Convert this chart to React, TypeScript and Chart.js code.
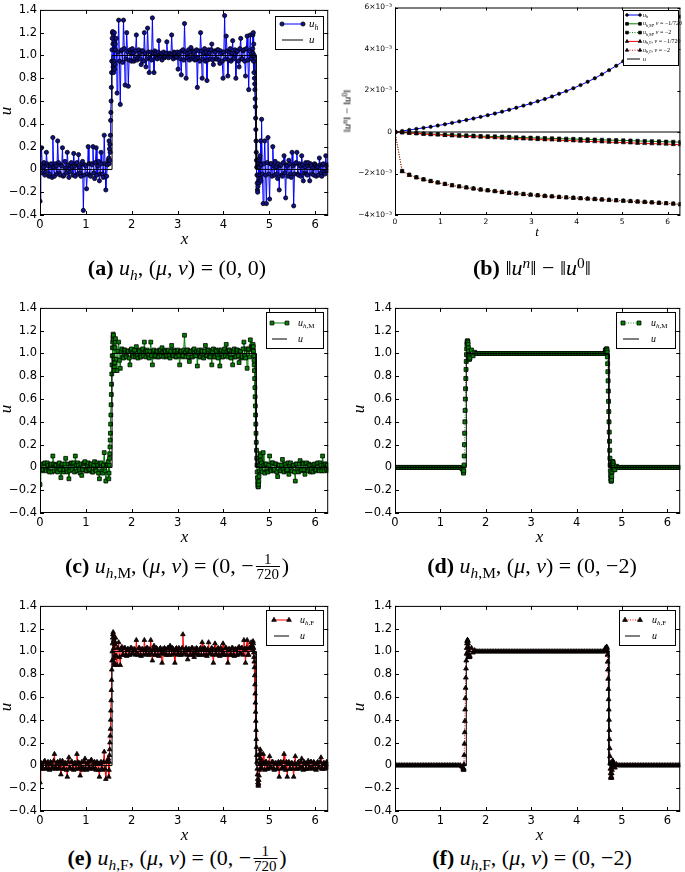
import React, { useEffect, useRef } from 'react';
import { Chart, registerables } from 'chart.js';

Chart.register(...registerables);

const TWO_PI = 2 * Math.PI;
const HALF_PI = Math.PI / 2;

// ---------------- data ----------------
// uniform meshes on [0, 2π] plus refined sample windows across the two jumps
const FINE_POINTS = 360;
const COARSE_POINTS = 180;
const X_FINE = Array.from({ length: FINE_POINTS }, (_, i) => (i * TWO_PI) / (FINE_POINTS - 1));
const X_COARSE = Array.from({ length: COARSE_POINTS }, (_, i) => (i * TWO_PI) / (COARSE_POINTS - 1));
const X_UP = Array.from({ length: 29 }, (_, i) => 1.5 + i * 0.005); // 1.500 .. 1.640
const X_DOWN = Array.from({ length: 37 }, (_, i) => 4.64 + i * 0.005); // 4.640 .. 4.820

const EXACT_X = [0, HALF_PI, HALF_PI, 3 * HALF_PI, 3 * HALF_PI, TWO_PI];
const EXACT_U = [0, 0, 1, 1, 0, 0];

const X_TICKS = [0, 1, 2, 3, 4, 5, 6];
const U_TICKS = [-0.4, -0.2, 0, 0.2, 0.4, 0.6, 0.8, 1.0, 1.2, 1.4];

const _ = null; // sample taken from the refined window instead

// (a) u_h, (mu, nu) = (0, 0)
const UH_PLAIN = [
  -0.28, 0.04, 0.19, -0.03, 0.02, 0.06, -0.05, -0.02, 0.15, 0.05, 0.03, -0.06, -0.04, 0.03, 0.05, -0.07, 0.28, 0.02, -0.06, 0.05,
  0.03, -0.04, 0.25, 0.06, -0.03, -0.05, 0.04, 0.03, 0.19, -0.06, -0.05, 0.07, 0.01, -0.03, 0.15, 0.04, -0.07, -0.02, 0.03, 0.06,
  0.02, -0.05, 0.14, 0.03, -0.06, 0.05, 0.06, -0.04, 0.13, 0.02, -0.03, -0.06, 0.05, 0.07, -0.36, -0.05, 0.04, 0.03, -0.17, -0.04,
  0.20, 0.05, -0.05, -0.06, 0.05, 0.04, 0.20, -0.03, -0.08, 0.06, 0.19, -0.05, 0.03, 0.07, -0.10, -0.04, 0.15, 0.05, -0.04, -0.07,
  0.30, 0.05, -0.18, -0.06, 0.04, 0.08, _, _, _, _, _, _, _, _, 1.05, 1.15, 0.67, 1.03, 1.31, 0.95,
  0.57, 1.04, 1.05, 0.94, 1.31, 1.06, 0.74, 0.97, 1.20, 1.03, 0.73, 0.96, 1.05, 1.02, 0.95, 1.06, 1.02, 0.95, 0.97, 1.04,
  1.18, 0.96, 0.98, 1.05, 1.02, 0.97, 0.92, 1.04, 1.04, 0.95, 1.20, 1.02, 0.90, 0.97, 1.24, 1.03, 0.85, 0.98, 1.03, 0.96,
  1.33, 1.02, 0.85, 1.04, 1.02, 0.98, 0.97, 1.03, 1.13, 0.98, 1.00, 1.02, 0.96, 1.01, 1.03, 0.98, 0.99, 1.02, 1.12, 0.99,
  0.98, 1.02, 1.01, 0.99, 1.18, 1.01, 0.97, 1.03, 1.02, 0.98, 0.99, 1.03, 0.88, 1.01, 1.03, 0.97, 0.83, 1.04, 1.05, 0.96,
  1.28, 1.03, 0.80, 0.98, 1.02, 1.05, 0.96, 1.03, 1.07, 0.97, 0.99, 1.04, 1.03, 0.96, 0.97, 1.05, 0.72, 0.98, 1.04, 0.95,
  1.20, 1.04, 0.80, 0.97, 1.02, 1.06, 0.95, 1.03, 0.78, 0.96, 1.05, 1.02, 0.97, 1.05, 1.10, 0.96, 0.92, 1.04, 1.03, 0.97,
  0.97, 1.05, 1.05, 0.96, 0.93, 1.04, 1.02, 0.95, 0.80, 1.03, 1.35, 0.97, 1.17, 1.04, 0.82, 0.96, 1.03, 1.06, 0.95, 1.02,
  1.13, 0.97, 0.98, 1.05, 0.80, 1.03, 1.04, 0.95, 0.90, 1.06, 1.15, 0.97, 0.97, 1.04, 1.05, 0.95, 0.82, 1.06, 1.17, 0.96,
  0.70, 1.04, 1.18, 0.97, 1.00, 1.06, _, _, _, _, _, _, _, _, _, _, 0.44, -0.04, -0.30, 0.05,
  0.25, -0.05, -0.30, 0.06, 0.28, -0.04, -0.26, 0.05, 0.05, -0.06, 0.20, 0.03, -0.05, 0.07, 0.02, -0.04, -0.08, 0.05, -0.18, 0.03,
  0.04, -0.05, -0.06, 0.06, 0.12, -0.03, -0.25, 0.04, 0.03, -0.06, 0.08, 0.05, -0.04, -0.07, 0.15, 0.03, -0.32, -0.04, 0.05, 0.06,
  0.15, -0.04, -0.05, 0.05, 0.03, -0.06, 0.12, 0.04, -0.10, -0.03, 0.02, 0.06, -0.04, -0.05, 0.06, 0.03, -0.10, 0.05, 0.03, -0.04,
  0.01, -0.05, 0.05, 0.04, -0.06, 0.03, 0.02, -0.05, 0.10, 0.04, -0.03, -0.06, 0.04, 0.05, -0.02, -0.04, 0.12, 0.03, -0.01, 0.04,
];
const UH_PLAIN_UP = [
  0.10, 0.25, 0.05, 0.18, 0.08, 0.22, 0.15, 0.30, 0.43, 0.50, 0.60, 0.72, 0.85, 0.95, 1.05,
  1.15, 1.20, 1.21, 1.10, 0.90, 1.18, 0.85, 1.12, 0.95, 1.20, 0.88, 1.05, 0.92, 1.10,
];
const UH_PLAIN_DOWN = [
  1.18, 1.02, 1.20, 0.95, 1.10, 0.85, 1.00, 0.80, 0.75, 0.70, 0.62, 0.55, 0.45, 0.35, 0.25, 0.15, 0.08, 0.02, -0.05,
  -0.12, -0.18, -0.20, -0.15, -0.05, 0.05, -0.10, 0.08, -0.12, 0.02, 0.10, -0.05, 0.12, -0.08, 0.05, 0.25, -0.10, 0.04,
];

// (c) u_h,M, (0, -1/720)
const UHM_NU720 = [
  -0.15, -0.02, 0.03, -0.03, -0.02, 0.03, 0.04, -0.02, -0.03, 0.04, 0.02, -0.03, -0.04, 0.02, 0.03, -0.04, 0.10, 0.03, -0.03, 0.02,
  0.02, -0.03, -0.04, 0.03, 0.04, -0.02, -0.09, 0.02, 0.03, -0.04, -0.02, 0.03, 0.08, -0.02, -0.04, 0.03, -0.10, -0.03, 0.03, 0.04,
  -0.02, 0.03, 0.04, -0.04, 0.10, 0.02, -0.03, 0.04, 0.02, -0.03, -0.05, 0.03, -0.07, -0.02, 0.03, 0.04, 0.05, -0.03, -0.03, 0.02,
  0.04, -0.03, -0.02, 0.03, 0.03, -0.04, -0.04, 0.02, 0.05, -0.02, -0.03, 0.04, 0.02, -0.05, -0.10, 0.03, 0.04, -0.03, -0.05, 0.02,
  0.13, -0.03, -0.12, 0.02, 0.03, 0.05, _, _, _, _, _, _, _, _, 1.13, 0.95, 0.85, 1.02, 1.10, 0.94,
  0.87, 1.02, 1.04, 0.97, 0.96, 1.03, 1.03, 0.98, 0.97, 1.02, 1.02, 0.96, 0.90, 1.03, 1.04, 0.98, 0.97, 1.02, 1.03, 0.97,
  1.06, 0.98, 0.96, 1.03, 1.02, 0.97, 0.97, 1.03, 1.04, 0.98, 1.10, 1.02, 0.97, 1.03, 1.02, 0.97, 0.96, 1.02, 1.10, 0.98,
  0.90, 1.02, 1.03, 0.97, 0.98, 1.02, 1.02, 0.97, 0.97, 1.03, 1.03, 0.98, 1.05, 1.01, 0.97, 1.03, 1.02, 0.97, 0.98, 1.02,
  1.03, 0.98, 0.96, 1.02, 1.07, 0.98, 0.98, 1.03, 1.02, 0.97, 0.97, 1.02, 1.03, 0.98, 0.90, 1.02, 1.02, 0.97, 0.98, 1.03,
  1.16, 1.01, 0.97, 1.03, 1.03, 0.97, 0.93, 1.02, 1.02, 0.97, 0.97, 1.03, 1.04, 0.98, 0.98, 1.02, 0.89, 1.01, 1.03, 0.97,
  0.97, 1.03, 1.02, 0.97, 0.96, 1.02, 1.07, 0.98, 0.98, 1.03, 1.03, 0.97, 0.97, 1.02, 0.90, 1.01, 1.04, 0.97, 0.97, 1.03,
  1.02, 0.98, 0.96, 1.03, 0.89, 1.02, 1.03, 0.97, 0.97, 1.02, 1.04, 0.98, 1.08, 1.02, 0.97, 1.03, 1.03, 0.97, 0.96, 1.02,
  0.90, 1.02, 1.04, 0.97, 0.97, 1.03, 1.03, 0.98, 0.92, 1.02, 1.02, 0.96, 0.97, 1.04, 1.10, 0.98, 0.96, 1.04, 0.87, 1.03,
  1.04, 0.97, 1.12, 1.06, 1.05, 1.03, _, _, _, _, _, _, _, _, _, _, 0.04, -0.04, 0.13, 0.02,
  -0.05, 0.03, 0.03, -0.03, -0.04, 0.02, 0.10, -0.02, -0.03, 0.04, 0.04, -0.03, -0.02, 0.03, 0.03, -0.04, -0.08, 0.02, 0.02, -0.03,
  -0.03, 0.02, 0.07, -0.02, -0.04, 0.03, 0.03, -0.03, -0.02, 0.04, -0.06, 0.02, 0.04, -0.03, -0.03, 0.02, 0.02, -0.04, -0.12, 0.03,
  0.03, -0.02, -0.04, 0.03, 0.06, -0.03, -0.02, 0.04, 0.03, -0.02, -0.06, 0.03, 0.04, -0.02, -0.03, 0.03, 0.02, -0.04, -0.03, 0.02,
  -0.04, 0.02, 0.03, -0.03, -0.02, 0.03, 0.04, -0.02, -0.03, 0.04, 0.02, -0.03, 0.10, 0.02, -0.03, 0.03, 0.03, -0.02, 0.02, -0.03,
];
const UHM_NU720_UP = [
  -0.10, -0.05, 0.02, 0.08, 0.12, 0.18, 0.24, 0.30, 0.38, 0.46, 0.55, 0.64, 0.73, 0.82, 0.90,
  0.98, 1.05, 1.10, 1.14, 1.17, 1.16, 1.12, 1.05, 0.95, 0.88, 0.85, 0.92, 1.05, 1.10,
];
const UHM_NU720_DOWN = [
  1.05, 1.08, 1.06, 1.02, 0.98, 0.94, 0.90, 0.85, 0.78, 0.70, 0.62, 0.54, 0.46, 0.38, 0.30, 0.22, 0.15, 0.08, 0.02,
  -0.04, -0.09, -0.13, -0.16, -0.17, -0.17, -0.15, -0.12, -0.08, -0.03, 0.02, 0.06, 0.10, 0.12, 0.10, 0.06, 0.02, -0.02,
];

// (d) u_h,M, (0, -2)  (coarse mesh)
const UHM_NU2 = [
  0, 0, 0, 0, 0, 0, 0, 0, 0, 0, 0, 0, 0, 0, 0, 0, 0, 0, 0, 0,
  0, 0, 0, 0, 0, 0, 0, 0, 0, 0, 0, 0, 0, 0, 0, 0, 0, 0, 0, 0,
  0, 0, -0.01, _, _, _, _, 0.96, 1.03, 0.98, 1.01, 1, 1, 1, 1, 1, 1, 1, 1, 1,
  1, 1, 1, 1, 1, 1, 1, 1, 1, 1, 1, 1, 1, 1, 1, 1, 1, 1, 1, 1,
  1, 1, 1, 1, 1, 1, 1, 1, 1, 1, 1, 1, 1, 1, 1, 1, 1, 1, 1, 1,
  1, 1, 1, 1, 1, 1, 1, 1, 1, 1, 1, 1, 1, 1, 1, 1, 1, 1, 1, 1,
  1, 1, 1, 1, 1, 1, 1, 1, 1, 1, 1, 1, 1.03, _, _, _, _, _, -0.02, 0.01,
  0, 0, 0, 0, 0, 0, 0, 0, 0, 0, 0, 0, 0, 0, 0, 0, 0, 0, 0, 0,
  0, 0, 0, 0, 0, 0, 0, 0, 0, 0, 0, 0, 0, 0, 0, 0, 0, 0, 0, 0,
];
const UHM_NU2_UP = [
  -0.02, -0.04, -0.05, -0.03, 0.02, 0.10, 0.20, 0.30, 0.40, 0.50, 0.60, 0.69, 0.78, 0.86, 0.93,
  0.99, 1.04, 1.08, 1.10, 1.11, 1.11, 1.10, 1.08, 1.05, 1.02, 0.99, 0.97, 0.95, 0.95,
];
const UHM_NU2_DOWN = [
  1.00, 1.01, 1.02, 1.03, 1.04, 1.04, 1.03, 1.01, 0.97, 0.91, 0.84, 0.76, 0.67, 0.58, 0.49, 0.40, 0.31, 0.23, 0.15,
  0.08, 0.02, -0.03, -0.07, -0.10, -0.12, -0.12, -0.11, -0.08, -0.04, 0.00, 0.03, 0.05, 0.05, 0.04, 0.02, 0.00, -0.02,
];

// (e) u_h,F, (0, -1/720)
const UHF_NU720 = [
  -0.15, -0.03, 0.02, -0.02, -0.03, 0.03, 0.04, -0.03, -0.02, 0.02, 0.03, -0.03, -0.04, 0.03, 0.02, -0.02, -0.03, 0.04, 0.10, -0.02,
  -0.03, 0.02, 0.03, -0.03, -0.02, 0.04, -0.08, 0.02, 0.04, -0.03, -0.03, 0.02, 0.02, -0.04, -0.10, 0.03, 0.07, -0.02, -0.03, 0.03,
  0.03, -0.03, -0.04, 0.02, 0.02, -0.03, 0.10, 0.03, -0.03, 0.02, -0.09, -0.02, 0.03, -0.04, -0.02, 0.03, 0.06, -0.03, -0.04, 0.02,
  0.03, -0.02, -0.03, 0.04, 0.05, -0.03, -0.02, 0.02, 0.03, -0.03, -0.04, 0.03, 0.02, -0.04, -0.10, 0.02, 0.03, -0.03, -0.04, 0.03,
  0.12, -0.03, -0.12, 0.03, 0.04, 0.06, _, _, _, _, _, _, _, _, 1.12, 0.96, 0.88, 1.03, 1.08, 0.95,
  0.88, 1.02, 1.04, 0.97, 0.97, 1.03, 1.03, 0.97, 0.96, 1.02, 1.02, 0.97, 0.97, 1.03, 1.03, 0.98, 0.98, 1.02, 1.02, 0.97,
  1.10, 0.98, 0.97, 1.03, 1.03, 0.97, 0.96, 1.02, 1.02, 0.97, 1.10, 1.02, 0.98, 1.03, 1.03, 0.97, 0.97, 1.02, 1.10, 0.98,
  0.92, 1.02, 1.05, 0.97, 0.97, 1.03, 1.02, 0.97, 0.96, 1.02, 1.03, 0.98, 0.90, 1.02, 0.98, 1.03, 1.02, 0.97, 0.97, 1.03,
  1.03, 0.97, 1.05, 1.02, 0.97, 1.03, 1.02, 0.98, 0.90, 1.02, 1.03, 0.97, 0.98, 1.03, 1.02, 0.97, 0.97, 1.03, 1.15, 0.98,
  0.98, 1.02, 1.03, 0.97, 0.93, 1.02, 1.02, 0.97, 0.97, 1.03, 1.03, 0.98, 0.95, 1.02, 0.98, 1.03, 1.02, 0.97, 0.97, 1.02,
  1.03, 0.97, 1.08, 1.02, 0.97, 1.03, 1.02, 0.97, 0.96, 1.02, 1.08, 0.98, 0.98, 1.02, 1.03, 0.97, 0.90, 1.02, 1.07, 0.98,
  0.97, 1.02, 1.03, 0.97, 0.96, 1.03, 1.02, 0.98, 1.07, 0.97, 0.97, 1.03, 1.03, 0.97, 0.90, 1.02, 1.02, 0.97, 0.97, 1.03,
  1.03, 0.97, 0.96, 1.02, 1.02, 0.97, 0.97, 1.03, 1.04, 0.98, 0.98, 1.03, 1.03, 0.97, 1.10, 1.02, 0.90, 1.03, 1.10, 0.97,
  0.97, 1.03, 1.04, 1.08, 1.05, 1.02, _, _, _, _, _, _, _, _, _, _, 0.04, -0.03, 0.10, 0.02,
  -0.04, 0.03, 0.03, -0.03, -0.03, 0.02, 0.08, -0.02, -0.02, 0.03, 0.03, -0.03, -0.04, 0.02, 0.02, -0.03, -0.03, 0.03, -0.10, 0.02,
  0.03, -0.03, -0.02, 0.03, 0.10, -0.02, -0.04, 0.03, -0.10, 0.02, 0.03, -0.03, -0.03, 0.02, 0.02, -0.03, -0.10, 0.02, 0.08, -0.03,
  -0.03, 0.02, 0.03, -0.03, -0.02, 0.03, 0.06, -0.02, -0.04, 0.03, 0.02, -0.03, -0.03, 0.02, 0.04, -0.03, -0.02, 0.03, 0.03, -0.02,
  -0.03, 0.03, 0.02, -0.03, -0.04, 0.02, 0.03, -0.02, -0.02, 0.03, 0.07, -0.03, -0.03, 0.02, 0.02, -0.03, -0.02, 0.03, 0.01, -0.02,
];
const UHF_NU720_UP = [
  -0.10, -0.04, 0.03, 0.09, 0.14, 0.20, 0.26, 0.32, 0.40, 0.48, 0.57, 0.66, 0.75, 0.84, 0.92,
  1.00, 1.07, 1.12, 1.15, 1.17, 1.15, 1.10, 1.03, 0.94, 0.88, 0.90, 0.97, 1.06, 1.08,
];
const UHF_NU720_DOWN = [
  1.04, 1.09, 1.07, 1.03, 0.99, 0.95, 0.91, 0.86, 0.79, 0.71, 0.63, 0.55, 0.47, 0.39, 0.31, 0.23, 0.16, 0.09, 0.03,
  -0.03, -0.08, -0.12, -0.15, -0.17, -0.18, -0.16, -0.13, -0.09, -0.04, 0.01, 0.06, 0.10, 0.14, 0.11, 0.06, 0.02, -0.02,
];

// (f) u_h,F, (0, -2)  (coarse mesh)
const UHF_NU2 = [
  0, 0, 0, 0, 0, 0, 0, 0, 0, 0, 0, 0, 0, 0, 0, 0, 0, 0, 0, 0,
  0, 0, 0, 0, 0, 0, 0, 0, 0, 0, 0, 0, 0, 0, 0, 0, 0, 0, 0, 0,
  0, 0, -0.01, _, _, _, _, 0.96, 1.03, 0.99, 1.01, 1, 1, 1, 1, 1, 1, 1, 1, 1,
  1, 1, 1, 1, 1, 1, 1, 1, 1, 1, 1, 1, 1, 1, 1, 1, 1, 1, 1, 1,
  1, 1, 1, 1, 1, 1, 1, 1, 1, 1, 1, 1, 1, 1, 1, 1, 1, 1, 1, 1,
  1, 1, 1, 1, 1, 1, 1, 1, 1, 1, 1, 1, 1, 1, 1, 1, 1, 1, 1, 1,
  1, 1, 1, 1, 1, 1, 1, 1, 1, 1, 1, 1, 1.03, _, _, _, _, _, -0.02, 0.01,
  0, 0, 0, 0, 0, 0, 0, 0, 0, 0, 0, 0, 0, 0, 0, 0, 0, 0, 0, 0,
  0, 0, 0, 0, 0, 0, 0, 0, 0, 0, 0, 0, 0, 0, 0, 0, 0, 0, 0, 0,
];
const UHF_NU2_UP = [
  -0.02, -0.03, -0.04, -0.03, 0.01, 0.09, 0.19, 0.29, 0.39, 0.49, 0.59, 0.68, 0.77, 0.85, 0.92,
  0.98, 1.03, 1.07, 1.09, 1.10, 1.10, 1.09, 1.07, 1.04, 1.01, 0.98, 0.96, 0.95, 0.95,
];
const UHF_NU2_DOWN = [
  1.00, 1.01, 1.02, 1.03, 1.04, 1.04, 1.03, 1.01, 0.97, 0.91, 0.84, 0.76, 0.67, 0.58, 0.49, 0.40, 0.31, 0.23, 0.15,
  0.08, 0.02, -0.03, -0.07, -0.10, -0.11, -0.11, -0.10, -0.07, -0.04, 0.00, 0.03, 0.04, 0.04, 0.03, 0.02, 0.00, -0.01,
];

// (b) ||u^n|| - ||u^0||, in units of 1e-3, at 41 time levels on [0, 2π]
const T_LEVELS = Array.from({ length: 41 }, (_i, i) => (i * TWO_PI) / 40);
const T_ENDS = [0, TWO_PI];
const ZERO_LINE = [0, 0];
const NORM_TICKS = [-4, -2, 0, 2, 4, 6];
const NORM_UH = [
  0, 0.05, 0.10, 0.15, 0.20, 0.25, 0.31, 0.37, 0.44, 0.51,
  0.58, 0.65, 0.73, 0.81, 0.89, 0.98, 1.07, 1.17, 1.27, 1.37,
  1.48, 1.59, 1.71, 1.84, 1.97, 2.11, 2.26, 2.42, 2.59, 2.78,
  2.98, 3.19, 3.41, 3.64, 3.88, 4.13, 4.39, 4.66, 4.94, 5.24, 5.56,
];
const NORM_M_720 = [
  0, -0.02, -0.04, -0.06, -0.08, -0.10, -0.11, -0.13, -0.14, -0.16,
  -0.17, -0.18, -0.20, -0.21, -0.22, -0.23, -0.24, -0.26, -0.27, -0.28,
  -0.29, -0.30, -0.31, -0.32, -0.33, -0.34, -0.35, -0.36, -0.37, -0.38,
  -0.39, -0.40, -0.41, -0.42, -0.43, -0.44, -0.45, -0.46, -0.47, -0.48, -0.49,
];
const NORM_M_2 = [
  0, -1.88, -2.06, -2.18, -2.28, -2.36, -2.43, -2.50, -2.56, -2.62,
  -2.67, -2.72, -2.77, -2.81, -2.85, -2.89, -2.93, -2.96, -2.99, -3.02,
  -3.05, -3.08, -3.10, -3.13, -3.15, -3.17, -3.19, -3.21, -3.23, -3.25,
  -3.27, -3.29, -3.31, -3.33, -3.35, -3.37, -3.39, -3.41, -3.43, -3.45, -3.48,
];
const NORM_F_720 = [
  0, -0.02, -0.05, -0.07, -0.10, -0.12, -0.14, -0.16, -0.18, -0.20,
  -0.21, -0.23, -0.24, -0.26, -0.27, -0.29, -0.30, -0.32, -0.33, -0.34,
  -0.36, -0.37, -0.38, -0.40, -0.41, -0.42, -0.44, -0.45, -0.46, -0.47,
  -0.49, -0.50, -0.51, -0.52, -0.54, -0.55, -0.56, -0.57, -0.58, -0.60, -0.61,
];
const NORM_F_2 = [
  0, -1.90, -2.08, -2.20, -2.30, -2.38, -2.45, -2.52, -2.58, -2.63,
  -2.68, -2.73, -2.78, -2.82, -2.86, -2.90, -2.94, -2.97, -3.00, -3.03,
  -3.06, -3.09, -3.11, -3.14, -3.16, -3.18, -3.20, -3.22, -3.24, -3.26,
  -3.28, -3.30, -3.32, -3.34, -3.36, -3.38, -3.40, -3.42, -3.44, -3.46, -3.50,
];

// ---------------- styling / layout ----------------
const SERIF = "'Liberation Serif', 'DejaVu Serif', serif";
const SANS = "'DejaVu Sans', sans-serif";
const BLUE = '#0000ff';
const GREEN = '#008000';
const GREEN_DOT = '#22aa22';
const RED = '#ff0000';

Chart.defaults.font.family = SANS;

const PLOT_W = 289;
const PLOT_H = 208;
const COL_LEFT = [40, 395];
const ROW_TOP = [7, 305, 603];
const PAD_T = 7;
const AX_H = 18;
const U_TICK_FONT = 11.5;

type Part = { t: string; it?: boolean; sub?: boolean; sup?: boolean };
type LegendItem = { parts: Part[]; color: string; dash?: number[]; lw?: number; marker?: string; r?: number; fill?: string };
type LegendSpec = {
  right: number; top: number; width: number; height: number;
  firstRow: number; rowStep: number; lineInset: number; lineLen: number;
  textGap: number; fontSize: number; items: LegendItem[];
};

function buildSeries(mesh: number[], values: (number | null)[], up: number[], down: number[]) {
  const pts: { x: number; y: number }[] = [];
  mesh.forEach((x, i) => {
    const v = values[i];
    if (v !== null && v !== undefined) pts.push({ x, y: v });
  });
  X_UP.forEach((x, i) => pts.push({ x, y: up[i] }));
  X_DOWN.forEach((x, i) => pts.push({ x, y: down[i] }));
  pts.sort((p, q) => p.x - q.x);
  return pts;
}

function drawMarker(ctx: CanvasRenderingContext2D, kind: string, x: number, y: number, r: number, fill: string) {
  ctx.beginPath();
  if (kind === 'circle') {
    ctx.arc(x, y, r, 0, TWO_PI);
  } else if (kind === 'rect') {
    const s = r * Math.SQRT1_2;
    ctx.rect(x - s, y - s, 2 * s, 2 * s);
  } else {
    for (let k = 0; k < 3; k++) {
      const a = (k * TWO_PI) / 3;
      const px = x + Math.sin(a) * r;
      const py = y - Math.cos(a) * r;
      if (k === 0) ctx.moveTo(px, py); else ctx.lineTo(px, py);
    }
    ctx.closePath();
  }
  ctx.fillStyle = fill;
  ctx.fill();
  ctx.strokeStyle = '#000';
  ctx.lineWidth = 0.8;
  ctx.stroke();
}

function drawParts(ctx: CanvasRenderingContext2D, parts: Part[], x: number, y: number, size: number) {
  let cx = x;
  const base = y + size * 0.28;
  ctx.textBaseline = 'alphabetic';
  ctx.textAlign = 'left';
  ctx.fillStyle = '#000';
  for (const p of parts) {
    const s = p.sub || p.sup ? size * 0.7 : size;
    ctx.font = `${p.it ? 'italic ' : ''}${s}px ${SERIF}`;
    const dy = p.sub ? size * 0.22 : p.sup ? -size * 0.4 : 0;
    ctx.fillText(p.t, cx, base + dy);
    cx += ctx.measureText(p.t).width;
  }
}

function makeFramePlugin(tickLen: number) {
  return {
    id: 'mplFrame',
    afterDatasetsDraw(chart: any) {
      const { ctx, chartArea: a, scales } = chart;
      ctx.save();
      ctx.strokeStyle = '#000';
      ctx.lineWidth = 1;
      ctx.setLineDash([]);
      ctx.strokeRect(a.left + 0.5, a.top + 0.5, a.right - a.left - 1, a.bottom - a.top - 1);
      ctx.beginPath();
      for (const t of scales.x.ticks) {
        const px = Math.round(scales.x.getPixelForValue(t.value)) + 0.5;
        ctx.moveTo(px, a.bottom); ctx.lineTo(px, a.bottom - tickLen);
        ctx.moveTo(px, a.top); ctx.lineTo(px, a.top + tickLen);
      }
      for (const t of scales.y.ticks) {
        const py = Math.round(scales.y.getPixelForValue(t.value)) + 0.5;
        ctx.moveTo(a.left, py); ctx.lineTo(a.left + tickLen, py);
        ctx.moveTo(a.right, py); ctx.lineTo(a.right - tickLen, py);
      }
      ctx.stroke();
      ctx.restore();
    },
  };
}

function makeLegendPlugin(spec: LegendSpec) {
  return {
    id: 'mplLegend',
    afterDraw(chart: any) {
      const { ctx, chartArea: a } = chart;
      const bx = Math.round(a.right - spec.right - spec.width);
      const by = Math.round(a.top + spec.top);
      ctx.save();
      ctx.fillStyle = '#fff';
      ctx.fillRect(bx, by, spec.width, spec.height);
      ctx.strokeStyle = '#000';
      ctx.lineWidth = 1;
      ctx.strokeRect(bx + 0.5, by + 0.5, spec.width, spec.height);
      spec.items.forEach((e, i) => {
        const y = by + spec.firstRow + i * spec.rowStep;
        const x1 = bx + spec.lineInset;
        const x2 = x1 + spec.lineLen;
        ctx.beginPath();
        ctx.setLineDash(e.dash || []);
        ctx.strokeStyle = e.color;
        ctx.lineWidth = e.lw || 1;
        ctx.moveTo(x1, y); ctx.lineTo(x2, y);
        ctx.stroke();
        ctx.setLineDash([]);
        if (e.marker) {
          drawMarker(ctx, e.marker, x1, y, e.r || 2, e.fill || '#000');
          drawMarker(ctx, e.marker, x2, y, e.r || 2, e.fill || '#000');
        }
        drawParts(ctx, e.parts, x2 + spec.textGap, y, spec.fontSize);
      });
      ctx.restore();
    },
  };
}

function axis(min: number, max: number, ticks: number[], fmt: (v: number) => string, fontSize: number, fit: (s: any) => void) {
  return {
    type: 'linear',
    min,
    max,
    grid: { display: false, drawTicks: false },
    border: { display: false },
    ticks: {
      color: '#000',
      font: { family: SANS, size: fontSize },
      padding: 3,
      autoSkip: false,
      maxRotation: 0,
      callback: (v: number) => fmt(v),
    },
    afterBuildTicks: (s: any) => {
      s.ticks = ticks.map((v) => ({ value: v }));
    },
    afterFit: fit,
  };
}

const fmtInt = (v: number) => String(v);
const fmtU = (v: number) => (v === 0 ? '0' : v.toFixed(1).replace('-', '\u2212'));
const fmtNorm = (v: number) => (v === 0 ? '0' : `${v}\u00d710\u207b\u00b3`.replace('-', '\u2212'));

type SeriesStyle = { color: string; lw: number; dash: number[]; marker: string; r: number; fill: string };

const STYLE_A: SeriesStyle = { color: BLUE, lw: 1, dash: [], marker: 'circle', r: 2.1, fill: '#10108a' };
const STYLE_C: SeriesStyle = { color: GREEN, lw: 1, dash: [], marker: 'rect', r: 2.7, fill: GREEN };
const STYLE_D: SeriesStyle = { color: GREEN_DOT, lw: 1, dash: [1, 1.5], marker: 'rect', r: 2.8, fill: GREEN };
const STYLE_E: SeriesStyle = { color: RED, lw: 1, dash: [], marker: 'triangle', r: 2.7, fill: '#200000' };
const STYLE_F: SeriesStyle = { color: RED, lw: 1, dash: [1, 1.5], marker: 'triangle', r: 2.8, fill: '#200000' };

const U_PART: Part[] = [{ t: 'u', it: true }];
const UH_PART: Part[] = [{ t: 'u', it: true }, { t: 'h', it: true, sub: true }];
const UHM_PART: Part[] = [{ t: 'u', it: true }, { t: 'h', it: true, sub: true }, { t: ',M', sub: true }];
const UHF_PART: Part[] = [{ t: 'u', it: true }, { t: 'h', it: true, sub: true }, { t: ',F', sub: true }];

function seriesLegendItem(parts: Part[], s: SeriesStyle): LegendItem {
  return { parts, color: s.color, dash: s.dash, lw: s.lw, marker: s.marker, r: s.r, fill: s.fill };
}
const EXACT_ITEM: LegendItem = { parts: U_PART, color: '#000', lw: 1 };

function uConfig(points: { x: number; y: number }[], s: SeriesStyle, legend: LegendSpec, axW: number, padR: number) {
  return {
    type: 'line',
    data: {
      datasets: [
        {
          data: EXACT_X.map((x, i) => ({ x, y: EXACT_U[i] })),
          borderColor: '#000',
          borderWidth: 1,
          pointRadius: 0,
          clip: 0,
        },
        {
          data: points,
          borderColor: s.color,
          borderWidth: s.lw,
          borderDash: s.dash,
          pointStyle: s.marker,
          pointRadius: s.r,
          pointBackgroundColor: s.fill,
          pointBorderColor: '#000',
          pointBorderWidth: 0.8,
          clip: 0,
        },
      ],
    },
    options: {
      responsive: false,
      animation: false,
      events: [],
      layout: { padding: { top: PAD_T, right: padR, left: 0, bottom: 0 } },
      plugins: { legend: { display: false }, tooltip: { enabled: false } },
      scales: {
        x: axis(0, TWO_PI, X_TICKS, fmtInt, U_TICK_FONT, (sc: any) => { sc.height = AX_H; }),
        y: axis(-0.4, 1.4, U_TICKS, fmtU, U_TICK_FONT, (sc: any) => { sc.width = axW; }),
      },
    },
    plugins: [makeFramePlugin(4), makeLegendPlugin(legend)],
  };
}

type NormSeries = { values: number[]; color: string; dash: number[]; marker: string; r: number };
const NORM_SERIES: NormSeries[] = [
  { values: NORM_UH, color: BLUE, dash: [], marker: 'circle', r: 1.7 },
  { values: NORM_M_720, color: GREEN, dash: [], marker: 'rect', r: 2.4 },
  { values: NORM_M_2, color: GREEN, dash: [1, 1.5], marker: 'rect', r: 2.4 },
  { values: NORM_F_720, color: RED, dash: [], marker: 'triangle', r: 2.4 },
  { values: NORM_F_2, color: RED, dash: [1, 1.5], marker: 'triangle', r: 2.4 },
];
const NU_720: Part[] = [{ t: ', ' }, { t: 'ν', it: true }, { t: ' = \u22121/720' }];
const NU_2: Part[] = [{ t: ', ' }, { t: 'ν', it: true }, { t: ' = \u22122' }];
const NORM_LABELS: Part[][] = [
  UH_PART,
  [...UHM_PART, ...NU_720],
  [...UHM_PART, ...NU_2],
  [...UHF_PART, ...NU_720],
  [...UHF_PART, ...NU_2],
];

function normConfig(axW: number, padR: number) {
  const numeric = NORM_SERIES.map((s) => ({
    data: T_LEVELS.map((t, i) => ({ x: t, y: s.values[i] })),
    borderColor: s.color,
    borderWidth: 1,
    borderDash: s.dash,
    pointStyle: s.marker,
    pointRadius: s.r,
    pointBackgroundColor: '#000',
    pointBorderColor: '#000',
    pointBorderWidth: 0.6,
    clip: 0,
  }));
  const legend: LegendSpec = {
    right: 2, top: 2, width: 55, height: 55, firstRow: 5, rowStep: 8.8,
    lineInset: 4, lineLen: 13, textGap: 3, fontSize: 6,
    items: [
      ...NORM_SERIES.map((s, i) => ({ parts: NORM_LABELS[i], color: s.color, dash: s.dash, lw: 1, marker: s.marker, r: s.r * 0.8, fill: '#000' })),
      EXACT_ITEM,
    ],
  };
  return {
    type: 'line',
    data: {
      datasets: [
        { data: T_ENDS.map((t, i) => ({ x: t, y: ZERO_LINE[i] })), borderColor: '#000', borderWidth: 1, pointRadius: 0, clip: 0 },
        ...numeric.reverse(),
      ],
    },
    options: {
      responsive: false,
      animation: false,
      events: [],
      layout: { padding: { top: PAD_T, right: padR, left: 0, bottom: 0 } },
      plugins: { legend: { display: false }, tooltip: { enabled: false } },
      scales: {
        x: axis(0, TWO_PI, X_TICKS, fmtInt, 7.5, (sc: any) => { sc.height = AX_H; }),
        y: axis(-4, 6, NORM_TICKS, fmtNorm, 7.5, (sc: any) => { sc.width = axW; }),
      },
    },
    plugins: [makeFramePlugin(3), makeLegendPlugin(legend)],
  };
}

const LEG_A: LegendSpec = {
  right: 5, top: 6, width: 48, height: 33, firstRow: 8, rowStep: 16,
  lineInset: 7, lineLen: 21, textGap: 6, fontSize: 11,
  items: [seriesLegendItem(UH_PART, STYLE_A), EXACT_ITEM],
};
const LEG_C: LegendSpec = {
  right: 5, top: 4, width: 57, height: 36, firstRow: 11, rowStep: 16,
  lineInset: 6, lineLen: 15, textGap: 11, fontSize: 10,
  items: [seriesLegendItem(UHM_PART, STYLE_C), EXACT_ITEM],
};
const LEG_D: LegendSpec = {
  right: 5, top: 4, width: 59, height: 36, firstRow: 11, rowStep: 16,
  lineInset: 7, lineLen: 16, textGap: 12, fontSize: 10,
  items: [seriesLegendItem(UHM_PART, STYLE_D), EXACT_ITEM],
};
const LEG_E: LegendSpec = {
  right: 5, top: 4, width: 57, height: 35, firstRow: 10, rowStep: 16,
  lineInset: 8, lineLen: 15, textGap: 11, fontSize: 10,
  items: [seriesLegendItem(UHF_PART, STYLE_E), EXACT_ITEM],
};
const LEG_F: LegendSpec = {
  right: 5, top: 4, width: 56, height: 35, firstRow: 10, rowStep: 16,
  lineInset: 6, lineLen: 15, textGap: 12, fontSize: 10,
  items: [seriesLegendItem(UHF_PART, STYLE_F), EXACT_ITEM],
};

type PanelSpec = { id: string; left: number; top: number; width: number; height: number; make: () => any };

function uPanel(
  id: string, col: number, row: number, mesh: number[], values: (number | null)[],
  up: number[], down: number[], s: SeriesStyle, legend: LegendSpec
): PanelSpec {
  const axW = 40;
  const padR = col === 0 ? 4 : 1;
  return {
    id,
    left: COL_LEFT[col] - axW,
    top: ROW_TOP[row] - PAD_T,
    width: axW + PLOT_W + padR,
    height: PAD_T + PLOT_H + AX_H,
    make: () => uConfig(buildSeries(mesh, values, up, down), s, legend, axW, padR),
  };
}

const PANELS: PanelSpec[] = [
  uPanel('a', 0, 0, X_FINE, UH_PLAIN, UH_PLAIN_UP, UH_PLAIN_DOWN, STYLE_A, LEG_A),
  {
    id: 'b',
    left: COL_LEFT[1] - 55,
    top: ROW_TOP[0] - PAD_T,
    width: 55 + PLOT_W + 1,
    height: PAD_T + PLOT_H + AX_H,
    make: () => normConfig(55, 1),
  },
  uPanel('c', 0, 1, X_FINE, UHM_NU720, UHM_NU720_UP, UHM_NU720_DOWN, STYLE_C, LEG_C),
  uPanel('d', 1, 1, X_COARSE, UHM_NU2, UHM_NU2_UP, UHM_NU2_DOWN, STYLE_D, LEG_D),
  uPanel('e', 0, 2, X_FINE, UHF_NU720, UHF_NU720_UP, UHF_NU720_DOWN, STYLE_E, LEG_E),
  uPanel('f', 1, 2, X_COARSE, UHF_NU2, UHF_NU2_UP, UHF_NU2_DOWN, STYLE_F, LEG_F),
];

function Panel({ left, top, width, height, make }: PanelSpec) {
  const ref = useRef<HTMLCanvasElement>(null);
  useEffect(() => {
    const chart = new Chart(ref.current as HTMLCanvasElement, make());
    return () => chart.destroy();
  }, []);
  return (
    <canvas
      ref={ref}
      width={width}
      height={height}
      style={{ position: 'absolute', left, top, width, height }}
    />
  );
}

const Sub = ({ children }: { children: any }) => (
  <span style={{ fontSize: '0.7em', position: 'relative', top: '0.3em' }}>{children}</span>
);
const Sup = ({ children }: { children: any }) => (
  <span style={{ fontSize: '0.7em', position: 'relative', top: '-0.45em' }}>{children}</span>
);
const Frac = ({ num, den }: { num: string; den: string }) => (
  <span style={{ display: 'inline-block', position: 'relative', width: 26, height: 14, verticalAlign: 'baseline', margin: '0 1px' }}>
    <span style={{ position: 'absolute', left: 0, right: 0, bottom: 6, textAlign: 'center', fontSize: 15, lineHeight: '15px' }}>{num}</span>
    <span style={{ position: 'absolute', left: 1, right: 1, bottom: 6, height: 1, background: '#000' }} />
    <span style={{ position: 'absolute', left: 0, right: 0, top: 8, textAlign: 'center', fontSize: 15, lineHeight: '15px' }}>{den}</span>
  </span>
);

function Caption({ x, y, children }: { x: number; y: number; children: any }) {
  return (
    <div
      style={{
        position: 'absolute',
        left: x,
        top: y - 11,
        transform: 'translateX(-50%)',
        whiteSpace: 'nowrap',
        fontSize: 22,
        lineHeight: '22px',
      }}
    >
      {children}
    </div>
  );
}

function AxisLabel({ x, y, size, rotate, children }: { x: number; y: number; size: number; rotate?: boolean; children: any }) {
  return (
    <div
      style={{
        position: 'absolute',
        left: x,
        top: y,
        transform: `translate(-50%, -50%)${rotate ? ' rotate(-90deg)' : ''}`,
        fontSize: size,
        fontStyle: 'italic',
        whiteSpace: 'nowrap',
        lineHeight: 1,
      }}
    >
      {children}
    </div>
  );
}

const CAP_X = [177, 532];
const CAP_Y = [268, 566, 858];

export default function App() {
  const uLabels: any[] = [];
  const panelsU = [
    { col: 0, row: 0 },
    { col: 0, row: 1 },
    { col: 1, row: 1 },
    { col: 0, row: 2 },
    { col: 1, row: 2 },
  ];
  panelsU.forEach(({ col, row }) => {
    const pl = COL_LEFT[col];
    const pt = ROW_TOP[row];
    uLabels.push(
      <AxisLabel key={`y${col}${row}`} x={pl - (col === 0 ? 35 : 37)} y={pt + 104} size={17} rotate>
        u
      </AxisLabel>,
      <AxisLabel key={`x${col}${row}`} x={pl + PLOT_W / 2} y={pt + 231} size={17}>
        x
      </AxisLabel>
    );
  });

  return (
    <div
      style={{
        position: 'absolute',
        left: 0,
        top: 0,
        width: 685,
        height: 872,
        overflow: 'hidden',
        background: '#fff',
        color: '#000',
        fontFamily: SERIF,
      }}
    >
      {PANELS.map((p) => (
        <Panel key={p.id} {...p} />
      ))}
      {uLabels}
      <AxisLabel x={347} y={ROW_TOP[0] + 104} size={11} rotate>
        ‖u<Sup>n</Sup>‖ <span style={{ fontStyle: 'normal' }}>−</span> ‖u<Sup><span style={{ fontStyle: 'normal' }}>0</span></Sup>‖
      </AxisLabel>
      <AxisLabel x={537} y={ROW_TOP[0] + 224} size={13}>
        t
      </AxisLabel>

      <Caption x={CAP_X[0]} y={CAP_Y[0]}>
        <b>(a)</b> <i>u</i><Sub><i>h</i></Sub>, (<i>μ</i>, <i>ν</i>) = (0, 0)
      </Caption>
      <Caption x={CAP_X[1]} y={CAP_Y[0]}>
        <b>(b)</b> ‖<i>u</i><Sup><i>n</i></Sup>‖ − ‖<i>u</i><Sup>0</Sup>‖
      </Caption>
      <Caption x={CAP_X[0]} y={CAP_Y[1]}>
        <b>(c)</b> <i>u</i><Sub><i>h</i>,M</Sub>, (<i>μ</i>, <i>ν</i>) = (0, −<Frac num="1" den="720" />)
      </Caption>
      <Caption x={CAP_X[1]} y={CAP_Y[1]}>
        <b>(d)</b> <i>u</i><Sub><i>h</i>,M</Sub>, (<i>μ</i>, <i>ν</i>) = (0, −2)
      </Caption>
      <Caption x={CAP_X[0]} y={CAP_Y[2]}>
        <b>(e)</b> <i>u</i><Sub><i>h</i>,F</Sub>, (<i>μ</i>, <i>ν</i>) = (0, −<Frac num="1" den="720" />)
      </Caption>
      <Caption x={CAP_X[1]} y={CAP_Y[2]}>
        <b>(f)</b> <i>u</i><Sub><i>h</i>,F</Sub>, (<i>μ</i>, <i>ν</i>) = (0, −2)
      </Caption>
    </div>
  );
}
